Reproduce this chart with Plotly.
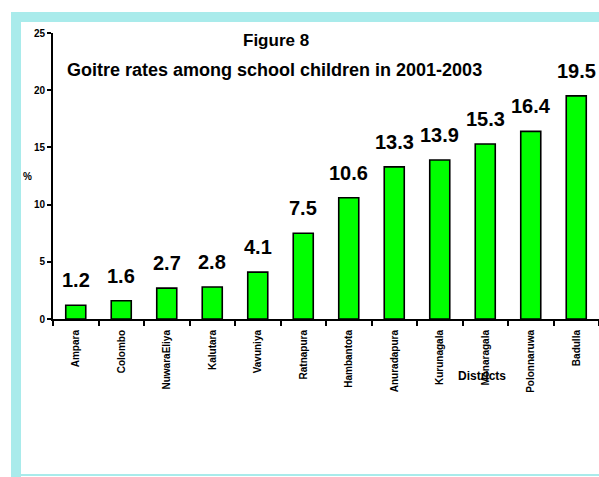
import plotly.graph_objects as go

districts = ["Ampara", "Colombo", "NuwaraEliya", "Kalutara", "Vavuniya", "Ratnapura",
             "Hambantota", "Anuradapura", "Kurunagala", "Monaragala", "Polonnaruwa", "Badulla"]
rates = [1.2, 1.6, 2.7, 2.8, 4.1, 7.5, 10.6, 13.3, 13.9, 15.3, 16.4, 19.5]
y_ticks = [0, 5, 10, 15, 20, 25]

W, H = 599, 477
ML, MR, MT, MB = 53, 0, 33, 158
PW, PH = W - ML - MR, H - MT - MB
FONT = "Liberation Sans, Arial, sans-serif"
FRAME = "#A9EBEB"


def px(x):
    return (x - ML) / PW


def py(y):
    return (H - MB - y) / PH


fig = go.Figure()
fig.add_trace(go.Bar(
    x=districts, y=rates, width=0.44,
    marker=dict(color="#00FF00", line=dict(color="black", width=1.6)),
    hoverinfo="x+y",
))

annotations = []
for d, v in zip(districts, rates):
    annotations.append(dict(x=d, y=v, xref="x", yref="y", text=f"<b>{v}</b>",
                            showarrow=False, yanchor="bottom", yshift=12,
                            font=dict(family=FONT, size=20, color="black")))

annotations += [
    dict(x=px(276), y=py(40), xref="paper", yref="paper", text="<b>Figure 8</b>",
         showarrow=False, xanchor="center", yanchor="middle",
         font=dict(family=FONT, size=17, color="black")),
    dict(x=px(274), y=py(70), xref="paper", yref="paper",
         text="<b>Goitre rates among school children in 2001-2003</b>",
         showarrow=False, xanchor="center", yanchor="middle",
         font=dict(family=FONT, size=18, color="black")),
    dict(x=px(482), y=py(376), xref="paper", yref="paper", text="<b>Districts</b>",
         showarrow=False, xanchor="center", yanchor="middle",
         font=dict(family=FONT, size=12, color="black")),
    dict(x=px(27), y=py(176), xref="paper", yref="paper", text="<b>%</b>",
         showarrow=False, xanchor="center", yanchor="middle",
         font=dict(family=FONT, size=10, color="black")),
]

# light cyan frame around the chart
shapes = [
    dict(type="rect", xref="paper", yref="paper", x0=px(11), x1=px(600), y0=py(477), y1=py(12),
         fillcolor="rgba(0,0,0,0)", line=dict(width=0), layer="below"),
    dict(type="rect", xref="paper", yref="paper", x0=px(11), x1=px(21), y0=py(477), y1=py(12),
         fillcolor=FRAME, line=dict(width=0), layer="below"),
    dict(type="rect", xref="paper", yref="paper", x0=px(11), x1=px(600), y0=py(22), y1=py(12),
         fillcolor=FRAME, line=dict(width=0), layer="below"),
    dict(type="rect", xref="paper", yref="paper", x0=px(21), x1=px(600), y0=py(476), y1=py(474),
         fillcolor=FRAME, line=dict(width=0), layer="below"),
]

fig.update_layout(
    width=W, height=H,
    margin=dict(l=ML, r=MR, t=MT, b=MB),
    paper_bgcolor="white", plot_bgcolor="white",
    showlegend=False,
    annotations=annotations,
    shapes=shapes,
    xaxis=dict(
        type="category", range=[-0.5, len(districts) - 0.5],
        tickangle=-90, tickson="boundaries", ticks="outside", ticklen=5,
        tickwidth=2, tickcolor="black", ticklabelstandoff=5,
        showline=True, linecolor="black", linewidth=2,
        showgrid=False, zeroline=False,
        tickfont=dict(family=FONT, size=10, color="black", weight="bold"),
    ),
    yaxis=dict(
        range=[0, 25], tickvals=y_ticks, ticks="outside", ticklen=4,
        tickwidth=2, tickcolor="black",
        showline=True, linecolor="black", linewidth=2,
        showgrid=False, zeroline=False,
        tickfont=dict(family=FONT, size=10, color="black", weight="bold"),
    ),
)

fig.write_html("out.html")
